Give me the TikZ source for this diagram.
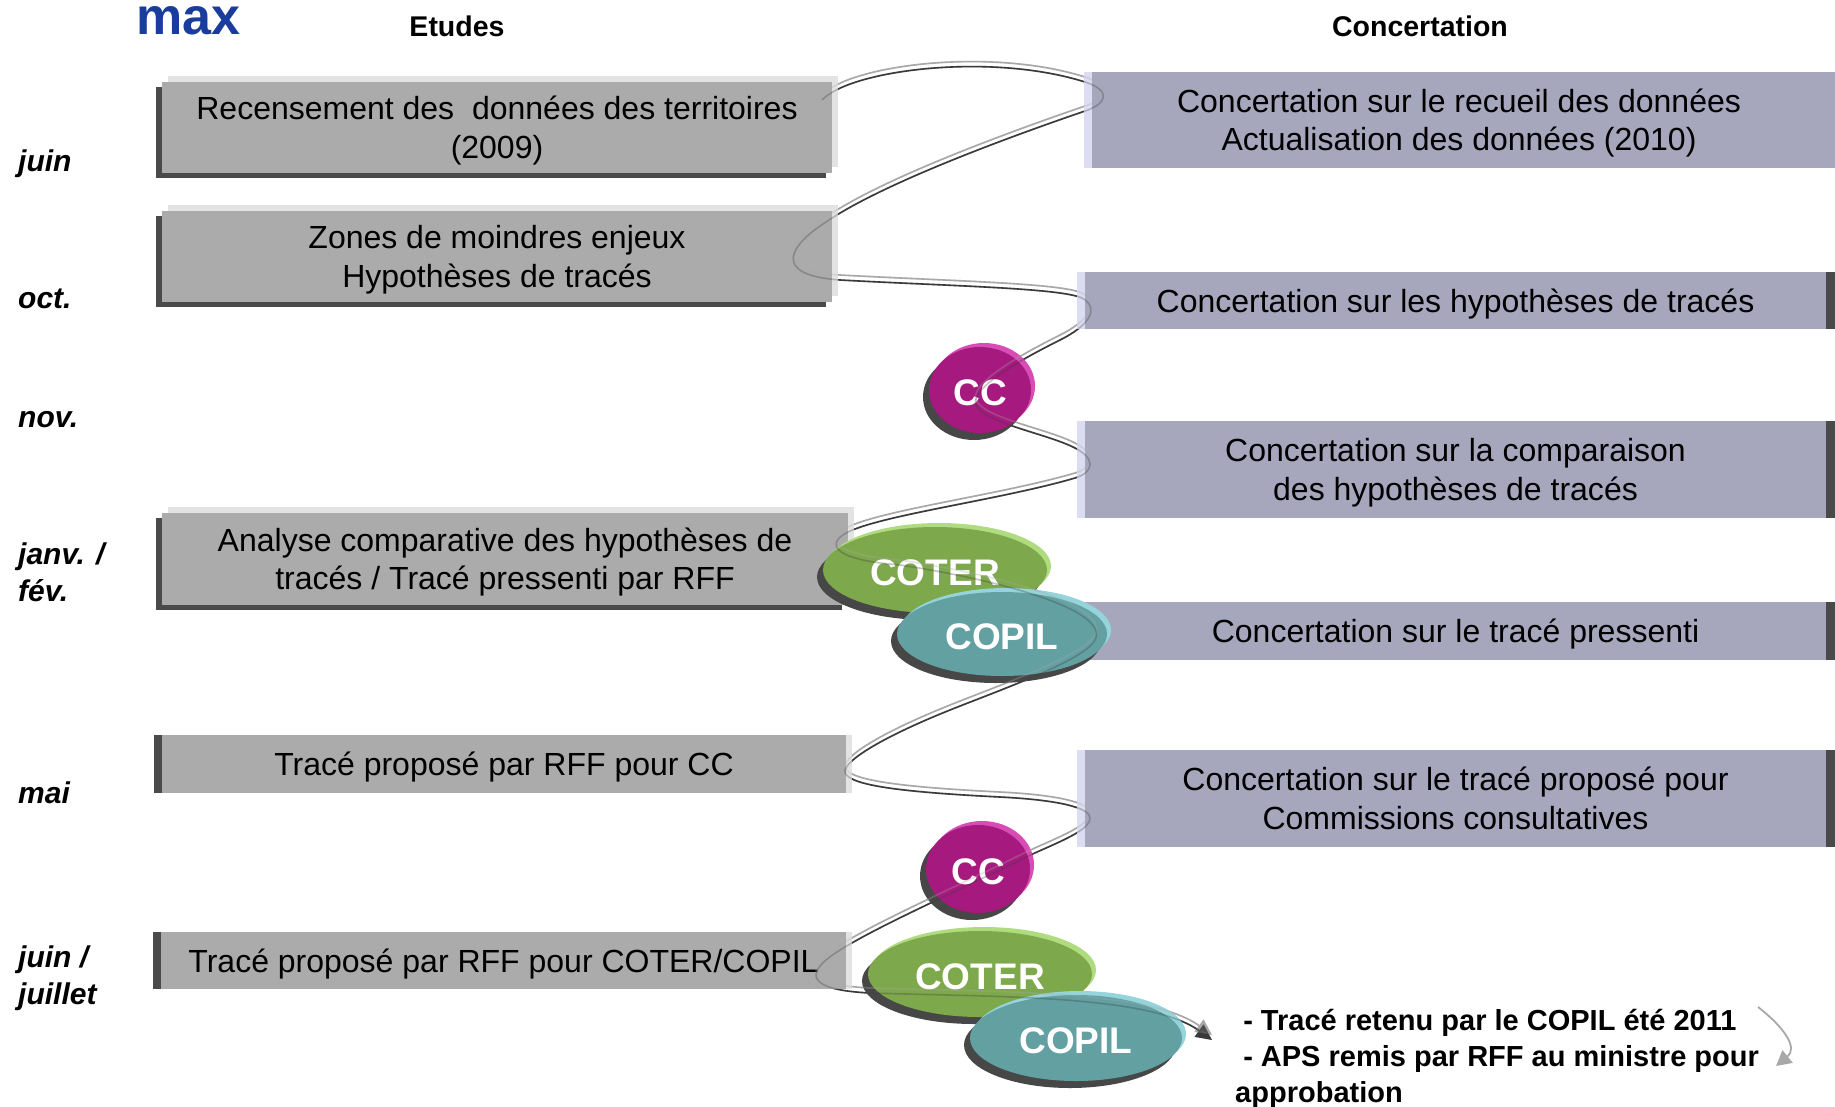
\documentclass[tikz,border=0pt]{standalone}
\usepackage{fontspec}
\setmainfont{Liberation Sans}
\usetikzlibrary{arrows.meta,shapes.geometric,shadows}
\pgfdeclarelayer{bg}
\pgfsetlayers{bg,main}
\definecolor{egray}{HTML}{ABABAB}
\definecolor{ehigh}{HTML}{E3E3E3}
\definecolor{edark}{HTML}{4A4A4A}
\definecolor{clav}{HTML}{A6A6BD}
\definecolor{chigh}{HTML}{DCDCF2}
\definecolor{ccfill}{HTML}{A6197F}
\definecolor{cchigh}{HTML}{D84DB5}
\definecolor{coterfill}{HTML}{7EA84C}
\definecolor{coterhigh}{HTML}{B0DC80}
\definecolor{copilfill}{HTML}{63A0A2}
\definecolor{copilhigh}{HTML}{94D4DA}
\definecolor{blobshadow}{HTML}{474747}
\definecolor{ribdark}{HTML}{3A3A3A}
\definecolor{riblight}{HTML}{A8A8A8}
\definecolor{maxblue}{HTML}{1A3C9C}
\newcommand\bodyfont{\fontsize{32}{38.5}\selectfont}
\newcommand\blobfont{\fontsize{37}{40}\selectfont\bfseries}
\newcommand\monthfont{\fontsize{30}{37}\selectfont\bfseries\itshape}
\newcommand\sline[1]{\rule{0pt}{30.5pt}#1}
\newcommand\mline[1]{\begin{tabular}{@{}c@{}}\rule{0pt}{35pt}#1\end{tabular}}
\newcommand\ribbonpath{(rs) .. controls (850,70) and (990,52) .. (1085,82)
 .. controls (1110,90) and (1108,102) .. (1088,110)
 .. controls (1000,140) and (880,185) .. (826,222)
 .. controls (790,245) and (770,275) .. (840,280)
 .. controls (950,286) and (1060,288) .. (1082,298)
 .. controls (1100,308) and (1090,325) .. (1060,340)
 .. controls (1010,365) and (960,395) .. (980,410)
 .. controls (995,425) and (1050,435) .. (1075,448)
 .. controls (1095,458) and (1095,472) .. (1075,478)
 .. controls (1000,500) and (880,515) .. (846,533)
 .. controls (825,545) and (835,560) .. (900,565)
 .. controls (1000,580) and (1110,610) .. (1095,640)
 .. controls (1085,660) and (1000,690) .. (950,710)
 .. controls (900,730) and (850,755) .. (845,770)
 .. controls (842,785) and (900,792) .. (1000,797)
 .. controls (1060,800) and (1090,808) .. (1090,818)
 .. controls (1090,832) and (1050,845) .. (1020,860)
 .. controls (960,890) and (880,925) .. (840,950)
 .. controls (800,975) and (810,990) .. (870,993)
 .. controls (1000,997) and (1150,995) .. (re)}
\begin{document}
\begin{tikzpicture}[x=1pt,y=-1pt,
  ebox/.style={rectangle, inner sep=0pt, fill=egray, font=\bodyfont},
  eshadeA/.style={general shadow={fill=ehigh, shadow xshift=6pt, shadow yshift=6pt},
                  general shadow={fill=edark, shadow xshift=-6pt, shadow yshift=-5pt}},
  eshadeB/.style={general shadow={fill=ehigh, shadow xshift=6pt},
                  general shadow={fill=edark, shadow xshift=-8pt}},
  cbox/.style={rectangle, inner sep=0pt, fill=clav, font=\bodyfont},
  cshade/.style={general shadow={fill=chigh, shadow xshift=-8pt},
                 general shadow={fill=edark, shadow xshift=9pt}},
  blob/.style 2 args={ellipse, inner sep=0pt, fill=#1, text=white, font=\blobfont,
               execute at begin node={\rule{0pt}{31.5pt}},
               general shadow={fill=#2, shadow xshift=4pt, shadow yshift=4pt},
               general shadow={fill=blobshadow, shadow xshift=-6pt, shadow yshift=-7pt}},
  month/.style={anchor=west, inner sep=0pt, align=left, font=\monthfont},
  header/.style={inner sep=0pt, font=\fontsize{28.5}{32}\selectfont\bfseries},
  ribd/.style={draw=ribdark, line width=1.6pt, -{Triangle[length=16pt,width=15pt]}},
  ribl/.style={draw=riblight, line width=1.6pt, -{Triangle[length=16pt,width=15pt]}},
  smallarrow/.style={draw=riblight, line width=1.8pt, -{Triangle[length=15pt,width=16pt]}}
]
\useasboundingbox (0,0) rectangle (1835,1106);
\clip (0,0) rectangle (1835,1106);

% headers
\node[anchor=base west, inner sep=0pt, text=maxblue, font=\fontsize{52}{56}\selectfont\bfseries] (max) at (136,34) {max};
\node[header] (hetudes) at (457,26) {Etudes};
\node[header] (hconc) at (1420,26) {Concertation};

% months
\node[month] (m1) at (18,164) {juin};
\node[month] (m2) at (18,299) {oct.};
\node[month] (m3) at (18,420) {nov.};
\node[month] (m4) at (18,572) {janv. /\\fév.};
\node[month] (m5) at (18,793) {mai};
\node[month] (m6) at (18,978) {juin /\\juillet};

% Etudes boxes
\node[ebox, eshadeA, minimum width=670pt, minimum height=91pt] (e1) at (497,127.5)
  {\mline{Recensement des\ \ données des territoires\\(2009)}};
\node[ebox, eshadeA, minimum width=670pt, minimum height=91pt] (e2) at (497,256.5)
  {\mline{Zones de moindres enjeux\\Hypothèses de tracés}};
\node[ebox, eshadeA, minimum width=686pt, minimum height=92pt] (e3) at (505,559)
  {\mline{Analyse comparative des hypothèses de\\tracés / Tracé pressenti par RFF}};
\node[ebox, eshadeB, minimum width=684pt, minimum height=58pt] (e4) at (504,764)
  {\sline{Tracé proposé par RFF pour CC}};
\node[ebox, eshadeB, minimum width=685pt, minimum height=57pt] (e5) at (503.5,960.5)
  {\sline{Tracé proposé par RFF pour COTER/COPIL}};

% Concertation boxes
\node[cbox, general shadow={fill=chigh, shadow xshift=-8pt},
      general shadow={fill=clav, shadow xshift=14pt},
      minimum width=734pt, minimum height=96pt] (r1) at (1459,120)
  {\mline{Concertation sur le recueil des données\\Actualisation des données (2010)}};
\node[cbox, cshade, minimum width=741pt, minimum height=57pt] (r2) at (1455.5,300.5)
  {\sline{Concertation sur les hypothèses de tracés}};
\node[cbox, cshade, minimum width=741pt, minimum height=97pt] (r3) at (1455.5,469.5)
  {\mline{Concertation sur la comparaison\\des hypothèses de tracés}};
\node[cbox, cshade, minimum width=741pt, minimum height=58pt] (r4) at (1455.5,631)
  {\sline{Concertation sur le tracé pressenti}};
\node[cbox, cshade, minimum width=741pt, minimum height=97pt] (r5) at (1455.5,798.5)
  {\mline{Concertation sur le tracé proposé pour\\Commissions consultatives}};

% ribbon ends
\coordinate (rs) at (822,100);
\coordinate (re) at (1212,1040);

% ribbon (under the boxes)
\begin{pgfonlayer}{bg}
  \draw[ribl, transform canvas={yshift=5pt}] \ribbonpath;
  \draw[ribd] \ribbonpath;
\end{pgfonlayer}

% committees
\node[blob={ccfill}{cchigh}, minimum width=102pt, minimum height=86pt] (cc1) at (980,390) {CC};
\node[blob={coterfill}{coterhigh}, minimum width=224pt, minimum height=86pt] (coter1) at (935,570) {COTER};
\node[blob={copilfill}{copilhigh}, minimum width=210pt, minimum height=84pt] (copil1) at (1002,634) {COPIL};
\node[blob={ccfill}{cchigh}, minimum width=104pt, minimum height=88pt] (cc2) at (978,869) {CC};
\node[blob={coterfill}{coterhigh}, minimum width=224pt, minimum height=86pt] (coter2) at (980,974) {COTER};
\node[blob={copilfill}{copilhigh}, minimum width=212pt, minimum height=86pt] (copil2) at (1076,1038) {COPIL};

% ribbon seen through the shapes
\begin{scope}[opacity=0.3]
  \draw[ribl, transform canvas={yshift=5pt}] \ribbonpath;
  \draw[ribd] \ribbonpath;
\end{scope}

% outcome text
\node[anchor=west, inner sep=0pt, align=left, font=\fontsize{29}{36}\selectfont\bfseries] (out) at (1235,1059)
  {\ - Tracé retenu par le COPIL été 2011\\\ - APS remis par RFF au ministre pour\\approbation};
\coordinate (a1) at (1758,1007);
\coordinate (a2) at (1776,1066);
\draw[smallarrow] (a1) .. controls (1785,1028) and (1798,1048) .. (a2);
\end{tikzpicture}
\end{document}
